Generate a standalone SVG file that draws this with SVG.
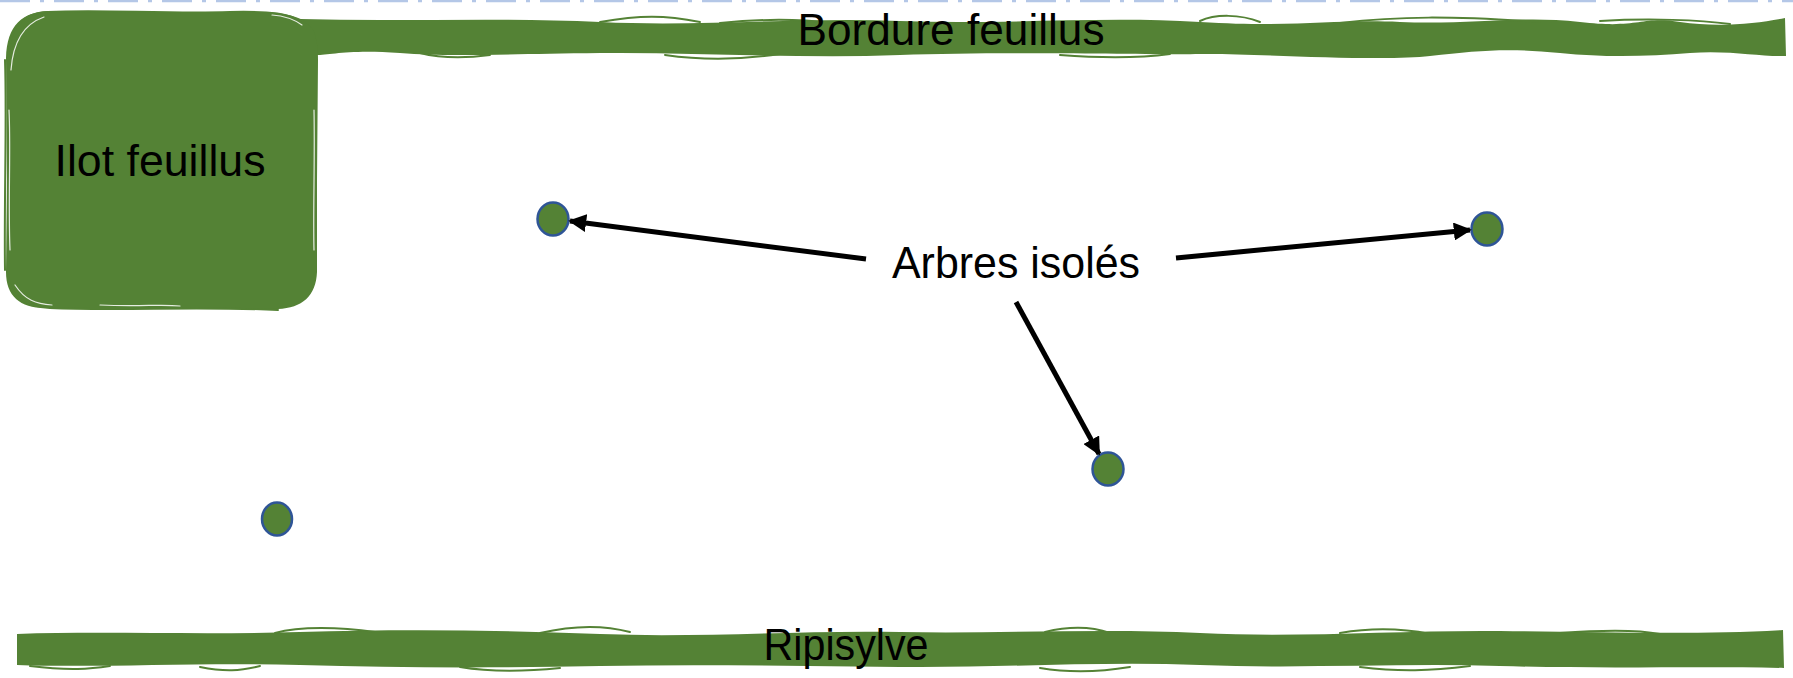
<svg xmlns="http://www.w3.org/2000/svg" width="1793" height="678" viewBox="0 0 1793 678">
  <style>
    .veg { fill: #548235; stroke: none; }
    .edge { fill: none; stroke: #548235; stroke-width: 2; stroke-linecap: round; }
    .gap { fill: none; stroke: #ffffff; stroke-width: 1.2; stroke-linecap: round; opacity: 0.85; }
    .tree { fill: #548235; stroke: #2F5597; stroke-width: 2.5; }
    .lbl { font-family: "Liberation Sans", Arial, sans-serif; font-size: 44px; fill: #000000; }
    .arrow { fill: none; stroke: #000000; stroke-width: 5; }
  </style>
  <defs>
    <marker id="ah" viewBox="0 0 10 10" refX="9" refY="5" markerWidth="3.6" markerHeight="3.6" orient="auto" markerUnits="strokeWidth">
      <path d="M0,0 L10,5 L0,10 Z" fill="#000000"/>
    </marker>
  </defs>
  <rect width="1793" height="678" fill="#ffffff"/>
  <line x1="0" y1="1" x2="1793" y2="1" stroke="#B4C7E7" stroke-width="2.5" stroke-dasharray="30 10 4 10"/>

  <g id="bordure-feuillus">
    <path class="veg" d="M 300,19 C 400,22 500,17 600,22 S 800,17 900,21 S 1100,16 1200,22 S 1330,19 1400,22 S 1520,15 1580,22 S 1640,16 1680,22 S 1760,23 1785,18 L 1786,56 C 1760,57 1730,50 1690,53 S 1610,58 1560,53 S 1480,50 1430,56 S 1250,53 1200,54 S 1000,51 900,55 S 700,52 600,53 S 450,57 400,53 S 330,55 316,55 Z"/>
    <path class="edge" d="M 600,22 C 640,15 665,15 700,22"/>
    <path class="edge" d="M 720,23 C 760,19 800,19 830,23"/>
    <path class="edge" d="M 665,55 C 700,60 740,60 780,54"/>
    <path class="edge" d="M 1340,23 C 1400,16 1450,16 1540,22"/>
    <path class="edge" d="M 1340,53 C 1380,58 1400,57 1410,52"/>
    <path class="edge" d="M 1200,21 C 1215,14 1240,14 1260,22"/>
    <path class="edge" d="M 1600,21 C 1650,18 1700,20 1730,24"/>
    <path class="edge" d="M 420,53 C 440,58 460,59 490,55"/>
    <path class="edge" d="M 1060,55 C 1100,58 1140,58 1170,54"/>
    <text class="lbl" x="951" y="45" text-anchor="middle" textLength="307" lengthAdjust="spacingAndGlyphs">Bordure feuillus</text>
  </g>

  <g id="ilot-feuillus">
    <path class="veg" d="M 6,58 C 7,25 22,11 52,11 L 150,12 L 265,12 C 285,12 298,16 312,28 C 316,34 318,45 318,60 L 317,180 L 317,272 C 316,296 302,308 278,309 L 150,309 L 45,308 C 20,308 6,296 6,272 L 7,180 Z"/>
    <path class="edge" d="M 8,60 C 9,28 22,13 48,12 C 100,9 160,14 230,12 C 270,11 290,14 305,22"/>
    <path class="edge" d="M 5,270 C 4,200 7,120 5,60"/>
    <path class="edge" d="M 8,275 C 10,298 25,306 50,308 C 120,311 200,306 278,310"/>
    <path class="gap" d="M 11,70 C 13,42 24,24 44,17"/>
    <path class="gap" d="M 10,250 C 8,200 11,150 9,110"/>
    <path class="gap" d="M 15,285 C 25,300 36,304 52,305"/>
    <path class="gap" d="M 100,305 C 140,307 160,304 180,306"/>
    <path class="gap" d="M 272,15 C 286,16 295,20 302,25"/>
    <path class="gap" d="M 314,110 C 315,160 313,210 314,250"/>
    <text class="lbl" x="160" y="176" text-anchor="middle" textLength="211" lengthAdjust="spacingAndGlyphs">Ilot feuillus</text>
  </g>

  <g id="ripisylve">
    <path class="veg" d="M 17,634 C 100,631 200,635 300,632 S 500,630 600,634 S 800,630 900,632 S 1100,628 1200,633 S 1400,630 1500,631 S 1700,635 1783,630 L 1784,668 C 1700,666 1600,669 1500,666 S 1300,669 1200,665 S 1000,668 900,667 S 700,664 600,666 S 400,668 300,665 S 100,668 17,665 Z"/>
    <path class="edge" d="M 275,633 C 300,626 340,627 375,632"/>
    <path class="edge" d="M 540,633 C 570,626 600,624 630,632"/>
    <path class="edge" d="M 1045,632 C 1070,626 1090,626 1110,633"/>
    <path class="edge" d="M 1340,633 C 1370,628 1400,628 1430,634"/>
    <path class="edge" d="M 1560,633 C 1600,630 1640,630 1660,634"/>
    <path class="edge" d="M 30,666 C 70,671 90,669 110,666"/>
    <path class="edge" d="M 200,667 C 225,672 240,671 260,666"/>
    <path class="edge" d="M 460,667 C 490,672 520,672 560,668"/>
    <path class="edge" d="M 1040,668 C 1070,673 1100,672 1130,667"/>
    <path class="edge" d="M 1360,667 C 1400,672 1430,671 1470,666"/>
    <text class="lbl" x="846" y="660" text-anchor="middle" textLength="165" lengthAdjust="spacingAndGlyphs">Ripisylve</text>
  </g>

  <g id="arbre-1"><ellipse class="tree" cx="553" cy="219" rx="15.5" ry="16.5"/></g>
  <g id="arbre-2"><ellipse class="tree" cx="1487" cy="229" rx="15.5" ry="16.5"/></g>
  <g id="arbre-3"><ellipse class="tree" cx="1108" cy="469" rx="15.5" ry="16.5"/></g>
  <g id="arbre-4"><ellipse class="tree" cx="277" cy="519" rx="15" ry="16.5"/></g>

  <g id="arbres-isoles">
    <text class="lbl" x="1016" y="278" text-anchor="middle" textLength="248" lengthAdjust="spacingAndGlyphs">Arbres isolés</text>
  </g>

  <g id="connectors">
    <line class="arrow" x1="866" y1="259" x2="570" y2="221" marker-end="url(#ah)"/>
    <line class="arrow" x1="1176" y1="258" x2="1470" y2="230" marker-end="url(#ah)"/>
    <line class="arrow" x1="1016" y1="302" x2="1099" y2="454" marker-end="url(#ah)"/>
  </g>
</svg>
